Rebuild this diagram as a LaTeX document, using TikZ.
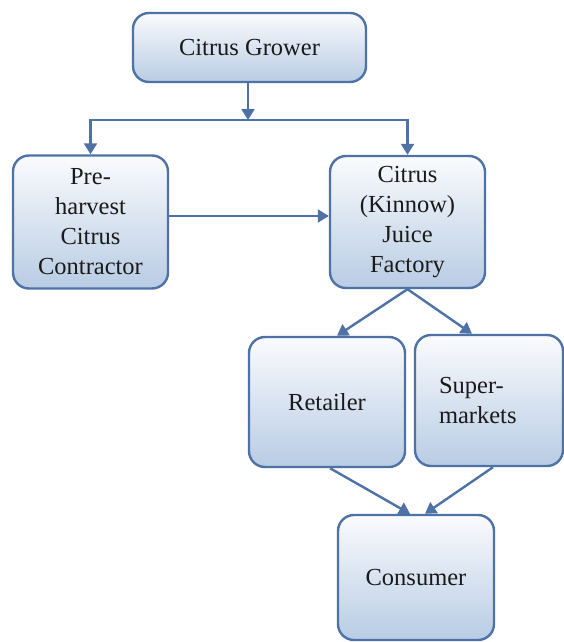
\documentclass[tikz,border=0pt]{standalone}
\usepackage{fontspec}
\setmainfont{Liberation Serif}
\usetikzlibrary{arrows.meta,calc}
\definecolor{edgeblue}{HTML}{4F72A6}
\definecolor{filltop}{HTML}{FAFBFD}
\definecolor{fillbot}{HTML}{B8CCE4}
\definecolor{inkgray}{HTML}{1A1A1A}
\tikzset{
  box/.style={draw=edgeblue, line width=2.4pt, rounded corners=16pt,
    top color=filltop, bottom color=fillbot, text=inkgray,
    font=\fontsize{24.5}{30}\selectfont, align=center, inner sep=0pt},
  flow/.style={draw=edgeblue, line width=2.4pt,
    -{Triangle[width=13pt,length=11pt]}}
}
\begin{document}
\begin{tikzpicture}[x=1pt,y=-1pt]
\useasboundingbox[fill=white] (0,0) rectangle (564,642);

% stages of the chain
\node[box, minimum width=233pt, minimum height=69pt] (grower) at (249.5,47.5) {Citrus Grower};
\node[box, minimum width=155pt, minimum height=133pt] (pre) at (90.5,222) {Pre-\\harvest\\Citrus\\Contractor};
\node[box, minimum width=155pt, minimum height=132pt] (juice) at (407.5,222) {Citrus\\(Kinnow)\\Juice\\Factory};
\node[box, minimum width=156pt, minimum height=130pt] (retailer) at (327,402) {Retailer};
\node[box, minimum height=131pt, text width=100pt, inner xsep=24pt, align=left] (super) at (489,400.5) {Super-\\markets};
\node[box, minimum width=156pt, minimum height=125pt] (consumer) at (416,577.5) {Consumer};

% grower splits into two branches
\coordinate (split) at (248,120);
\draw[flow] (grower.south -| split) -- (split);
\draw[flow] (split) -| (pre.north);
\draw[flow] (split) -| (juice.north);

% contractor sells to the factory
\draw[flow] (pre.east |- 0,216) -- (juice.west |- 0,216);

% factory to the retail outlets
\coordinate (rtop) at ($(retailer.north)+(10,0)$);
\coordinate (stop) at ($(super.north)+(-17,0)$);
\draw[flow] (juice.south) -- (rtop);
\draw[flow] (juice.south) -- (stop);

% outlets to the consumer
\coordinate (rbot) at ($(retailer.south)+(3,0)$);
\coordinate (sbot) at ($(super.south)+(4,0)$);
\coordinate (cl) at ($(consumer.north)+(-6,0)$);
\coordinate (cr) at ($(consumer.north)+(9,0)$);
\draw[flow] (rbot) -- (cl);
\draw[flow] (sbot) -- (cr);
\end{tikzpicture}
\end{document}
